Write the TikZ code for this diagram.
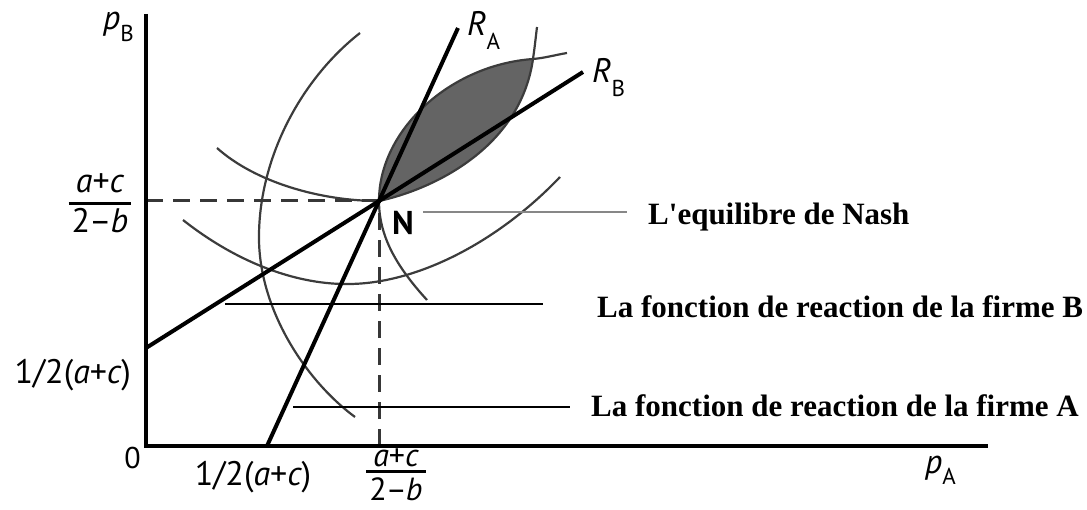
\documentclass[tikz,border=0pt]{standalone}
\usepackage{fontspec}
\newfontfamily\axfont{PT Sans}
\newfontfamily\txfont{Liberation Serif}[Ligatures={TeXOff,NoCommon}]
\definecolor{curvegray}{RGB}{60,60,60}
\definecolor{lensgray}{RGB}{100,100,100}
\definecolor{dashgray}{RGB}{55,55,55}
\definecolor{ptrgray}{RGB}{135,135,135}
% fraction built as one box: #1 kern above bar, #2 kern below bar
\newcommand{\fracAB}[4]{\vbox{\halign{\hfil\kern3pt##\kern3pt\hfil\cr#3\cr\noalign{\kern#1\hrule height 3pt\kern#2}#4\cr}}}
\newcommand{\mydash}{\kern-1pt\textendash\kern-1pt}
\begin{document}
\begin{tikzpicture}[x=1pt,y=-1pt,
  axisline/.style={line width=3.5pt,black,line join=miter},
  react/.style={line width=4pt,black},
  iso/.style={line width=2.2pt,curvegray},
  dashline/.style={line width=3pt,dashgray,dash pattern=on 17pt off 10pt},
  pointer/.style={line width=1.6pt,black},
  nashptr/.style={line width=2.6pt,ptrgray},
  lbl/.style={font=\txfont\bfseries\fontsize{31}{31}\selectfont,inner ysep=0pt,anchor=base west},
  axlbl/.style={font=\axfont\fontsize{34}{34}\selectfont,inner sep=0pt},
  varlbl/.style={font=\axfont\itshape\fontsize{34}{34}\selectfont,inner sep=0pt,anchor=base west}
]
\useasboundingbox (0,0) rectangle (1087,510);
% key points
\coordinate (N) at (379,201);
\coordinate (O) at (146,446);
\coordinate (Ytop) at (146,14);
\coordinate (Xend) at (988,446);
\coordinate (RAbot) at (267,446);
\coordinate (RAtop) at (458,28);
\coordinate (RBleft) at (146,348);
\coordinate (RBtop) at (583,72);
\coordinate (L) at (533,59);
% shaded lens
\fill[lensgray] (N) .. controls (379,130) and (450,65) .. (L)
  .. controls (520,150) and (430,190) .. (N) -- cycle;
% iso-profit curves
\draw[iso] (217,148) .. controls (255,182) and (320,201) .. (N)
  .. controls (430,190) and (520,150) .. (L)
  .. controls (535,45) and (536,35) .. (537,27);
\draw[iso] (427,300) .. controls (395,265) and (379,235) .. (N)
  .. controls (379,130) and (450,65) .. (L)
  .. controls (545,58) and (555,55) .. (567,53);
\draw[iso] (360,33) .. controls (300,80) and (258,160) .. (259,240)
  .. controls (260,310) and (305,380) .. (355,417);
\draw[iso] (183,220) .. controls (240,265) and (300,285) .. (350,284)
  .. controls (420,283) and (500,240) .. (560,177);
% dashed guides
\draw[dashline] (O |- N) -- (N);
\draw[dashline] (O -| N) -- (N);
% reaction functions
\draw[react] (RAbot) -- (N) -- (RAtop);
\draw[react] (RBleft) -- (N) -- (RBtop);
% axes
\draw[axisline] (Ytop) -- (O) -- (Xend);
% labels on the graph
\node[varlbl] (pB) at (103,30) {p\raisebox{-12pt}{\upshape\fontsize{23}{23}\selectfont B}};
\node[varlbl] (pA) at (925,473) {p\raisebox{-11pt}{\upshape\fontsize{23}{23}\selectfont A}};
\node[varlbl] (RA) at (467,36) {R\raisebox{-14pt}{\upshape\fontsize{23}{23}\selectfont A}};
\node[varlbl] (RB) at (592,83) {R\raisebox{-14pt}{\upshape\fontsize{23}{23}\selectfont B}};
\node[font=\axfont\bfseries\fontsize{33}{33}\selectfont,inner sep=0pt,anchor=base west] (Nlbl) at (392,235) {N};
\node[axlbl,anchor=base] (fracL) at (100,233) {\fracAB{9pt}{4pt}{\itshape a\upshape+\itshape c}{2\mydash\itshape b}};
\node[axlbl,font=\axfont\fontsize{32}{32}\selectfont,anchor=base] (fracB) at (396,500) {\fracAB{3pt}{4pt}{\itshape a\upshape+\itshape c}{2\mydash\itshape b}};
\node[axlbl,anchor=base east] (halfL) at (131,384) {1/2(\itshape a\upshape+\itshape c\upshape)};
\node[axlbl,anchor=base] (halfB) at (253,485) {1/2(\itshape a\upshape+\itshape c\upshape)};
\node[font=\axfont\fontsize{30}{30}\selectfont,inner sep=0pt,anchor=base east] (zero) at (141,468) {0};
% annotations
\node[lbl,inner xsep=21pt] (nash) at (627,225) {L'equilibre de Nash};
\node[lbl,inner xsep=54pt] (firmB) at (543,318) {La fonction de reaction de la firme B};
\node[lbl,inner xsep=21pt] (firmA) at (570,417) {La fonction de reaction de la firme A};
\coordinate (pN) at (423,212);
\coordinate (pBf) at (225,304);
\coordinate (pAf) at (293,407);
\draw[nashptr] (pN) -- (pN -| nash.west);
\draw[pointer] (pBf) -- (pBf -| firmB.west);
\draw[pointer] (pAf) -- (pAf -| firmA.west);
\end{tikzpicture}
\end{document}
